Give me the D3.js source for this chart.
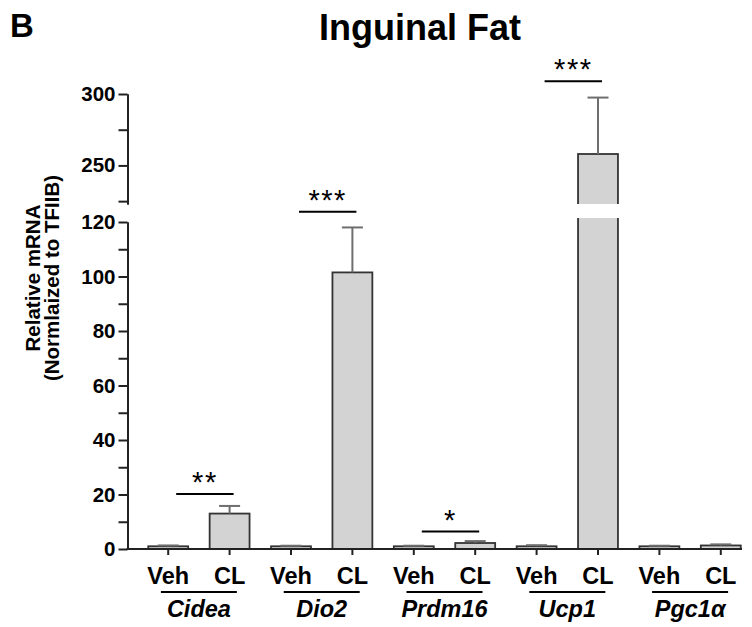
<!DOCTYPE html>
<html>
<head>
<meta charset="utf-8">
<script src="https://cdn.jsdelivr.net/npm/d3@7"></script>
<style>
  body { margin: 0; background: #fff; }
  svg { font-family: Arial, "Liberation Sans", sans-serif; }
</style>
</head>
<body>
<svg id="chart" width="752" height="627"></svg>
<script>
const genes = ['Cidea', 'Dio2', 'Prdm16', 'Ucp1', 'Pgc1α'];
const groups = ['Veh', 'CL'];
const vehMeans = [1.0, 1.0, 1.0, 1.0, 1.0];
const vehErrors = [0.3, 0.2, 0.2, 0.4, 0.2];
const clMeans = [13.0, 101.5, 2.2, 258, 1.3];
const clErrors = [2.8, 16.5, 0.7, 39.5, 0.4];
const sigGenes = ['Cidea', 'Dio2', 'Prdm16', 'Ucp1'];
const sigStars = ['**', '***', '*', '***'];
const sigHeights = [20.2, 123.8, 6.4, 309];
const lowMajor = [0, 20, 40, 60, 80, 100, 120];
const lowMinor = [10, 30, 50, 70, 90, 110];
const highMajor = [250, 300];
const highMinor = [225, 275];

const svg = d3.select('#chart');
const axisX = 127.5;
const baseY = 549;
const font = 'Arial, "Liberation Sans", sans-serif';

// broken y axis: two linear scales
const yLow = d3.scaleLinear().domain([0, 120]).range([baseY, 222]);
const yHigh = d3.scaleLinear().domain([223, 300]).range([204, 94]);
const lowClipTop = 218;
const highClipBottom = 204;

// one band per bar
const bars = [];
genes.forEach((g, i) => {
  bars.push({gene: g, group: groups[0], mean: vehMeans[i], err: vehErrors[i]});
  bars.push({gene: g, group: groups[1], mean: clMeans[i], err: clErrors[i]});
});
const x = d3.scaleBand()
  .domain(bars.map(d => d.gene + '|' + d.group))
  .range([137.5, 751.5])
  .paddingInner(0.35)
  .paddingOuter(0.175);
const cx = d => x(d.gene + '|' + d.group) + x.bandwidth() / 2;
const geneCenter = g => (cx({gene: g, group: 'Veh'}) + cx({gene: g, group: 'CL'})) / 2;

const defs = svg.append('defs');
defs.append('clipPath').attr('id', 'clipLow')
  .append('rect').attr('x', 0).attr('y', lowClipTop).attr('width', 752).attr('height', 627);
defs.append('clipPath').attr('id', 'clipHigh')
  .append('rect').attr('x', 0).attr('y', 0).attr('width', 752).attr('height', highClipBottom);

// title and panel letter
svg.append('text').attr('x', 10).attr('y', 37).attr('font-size', 33).attr('font-weight', 'bold').text('B');
svg.append('text').attr('x', 420).attr('y', 40).attr('text-anchor', 'middle')
  .attr('font-size', 36).attr('font-weight', 'bold').text('Inguinal Fat');

// y label
const yl = svg.append('text').attr('transform', 'translate(0,278) rotate(-90)')
  .attr('text-anchor', 'middle').attr('font-size', 20.5).attr('font-weight', 'bold');
yl.append('tspan').attr('x', 0).attr('y', 40).text('Relative mRNA');
yl.append('tspan').attr('x', 0).attr('y', 58.5).text('(Normlaized to TFIIB)');

// bars
const lowG = svg.append('g').attr('clip-path', 'url(#clipLow)');
const highG = svg.append('g').attr('clip-path', 'url(#clipHigh)');

lowG.selectAll('rect').data(bars).join('rect')
  .attr('x', d => x(d.gene + '|' + d.group))
  .attr('width', x.bandwidth())
  .attr('y', d => d.mean > 120 ? lowClipTop - 5 : yLow(d.mean))
  .attr('height', d => baseY - (d.mean > 120 ? lowClipTop - 5 : yLow(d.mean)))
  .attr('fill', '#d3d3d3').attr('stroke', '#333').attr('stroke-width', 1.8);

highG.selectAll('rect').data(bars.filter(d => d.mean > 223)).join('rect')
  .attr('x', d => x(d.gene + '|' + d.group))
  .attr('width', x.bandwidth())
  .attr('y', d => yHigh(d.mean))
  .attr('height', d => highClipBottom + 5 - yHigh(d.mean))
  .attr('fill', '#d3d3d3').attr('stroke', '#333').attr('stroke-width', 1.8);

// error bars (upper only)
const yOf = v => v > 223 ? yHigh(v) : yLow(v);
const eb = svg.append('g').attr('stroke', '#6e6e6e').attr('stroke-width', 2);
eb.selectAll('line.v').data(bars).join('line').attr('class', 'v')
  .attr('x1', cx).attr('x2', cx)
  .attr('y1', d => yOf(d.mean)).attr('y2', d => yOf(d.mean + d.err));
eb.selectAll('line.c').data(bars).join('line').attr('class', 'c')
  .attr('x1', d => cx(d) - 10.5).attr('x2', d => cx(d) + 10.5)
  .attr('y1', d => yOf(d.mean + d.err)).attr('y2', d => yOf(d.mean + d.err));

// y axes
function styleAxis(g) {
  g.attr('font-family', font);
  g.select('.domain').attr('stroke', '#222').attr('stroke-width', 2);
  g.selectAll('.tick line').attr('stroke', '#222').attr('stroke-width', 2);
  g.selectAll('.tick text').attr('font-size', 20.5).attr('font-weight', 'bold').attr('fill', '#000');
}
svg.append('g').attr('transform', `translate(${axisX},0)`)
  .call(d3.axisLeft(yLow).tickValues(lowMajor).tickSize(9).tickSizeOuter(0).tickPadding(3))
  .call(styleAxis);
svg.append('g').attr('transform', `translate(${axisX},0)`)
  .call(d3.axisLeft(yLow).tickValues(lowMinor).tickSize(9).tickSizeOuter(0).tickFormat(''))
  .call(styleAxis);
svg.append('g').attr('transform', `translate(${axisX},0)`)
  .call(d3.axisLeft(yHigh).tickValues(highMajor).tickSize(9).tickSizeOuter(0).tickPadding(3))
  .call(styleAxis);
svg.append('g').attr('transform', `translate(${axisX},0)`)
  .call(d3.axisLeft(yHigh).tickValues(highMinor).tickSize(9).tickSizeOuter(0).tickFormat(''))
  .call(styleAxis);

// x axis
const xAxis = svg.append('g').attr('transform', `translate(0,${baseY})`)
  .call(d3.axisBottom(x).tickSize(6).tickSizeOuter(0).tickPadding(12).tickFormat(d => d.split('|')[1]));
xAxis.attr('font-family', font);
xAxis.select('.domain').remove();
xAxis.selectAll('.tick line').attr('stroke', '#222').attr('stroke-width', 2);
xAxis.selectAll('.tick text').attr('font-size', 23.5).attr('font-weight', 'bold').attr('fill', '#000');
svg.append('line').attr('x1', axisX - 1).attr('x2', 742).attr('y1', baseY).attr('y2', baseY)
  .attr('stroke', '#222').attr('stroke-width', 2);

// gene labels with underline
const gl = svg.append('g').selectAll('g').data(genes).join('g')
  .attr('transform', d => `translate(${geneCenter(d)},0)`);
gl.append('line').attr('x1', -38).attr('x2', 38).attr('y1', 592).attr('y2', 592)
  .attr('stroke', '#000').attr('stroke-width', 2);
gl.append('text').attr('y', 617).attr('text-anchor', 'middle').attr('font-size', 23.5)
  .attr('font-weight', 'bold').attr('font-style', 'italic').text(d => d);

// significance
const sg = svg.append('g').selectAll('g').data(sigGenes).join('g');
sg.append('line')
  .attr('x1', d => cx({gene: d, group: 'Veh'}) + 8)
  .attr('x2', d => cx({gene: d, group: 'CL'}) + 4)
  .attr('y1', (d, i) => yOf(sigHeights[i])).attr('y2', (d, i) => yOf(sigHeights[i]))
  .attr('stroke', '#000').attr('stroke-width', 2);
sg.append('text')
  .attr('x', d => (cx({gene: d, group: 'Veh'}) + cx({gene: d, group: 'CL'})) / 2 + 6)
  .attr('y', (d, i) => yOf(sigHeights[i]) - 2)
  .attr('text-anchor', 'middle').attr('font-size', 29).attr('letter-spacing', 1.5)
  .text((d, i) => sigStars[i]);
</script>
</body>
</html>
